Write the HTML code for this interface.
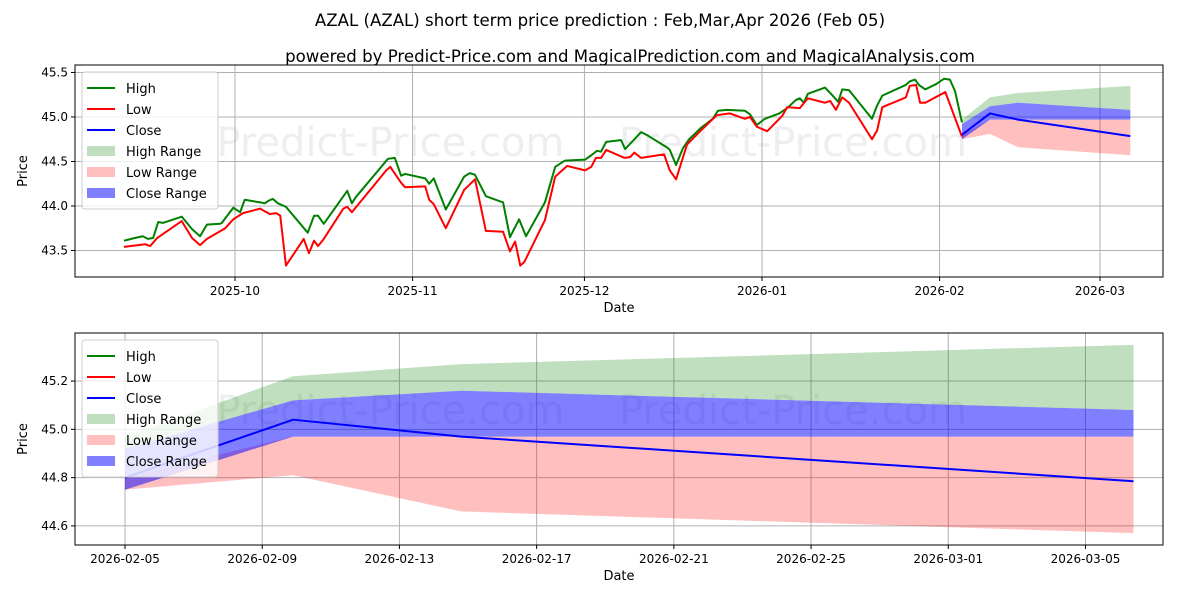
<!DOCTYPE html>
<html><head><meta charset="utf-8"><style>
body{margin:0;background:#fff;font-family:"DejaVu Sans","Liberation Sans",sans-serif;}
svg text{font-family:"DejaVu Sans","Liberation Sans",sans-serif;}
</style></head><body>
<svg id="c" width="1200" height="600" xmlns="http://www.w3.org/2000/svg"></svg>
<script>
// ---- data ----
const histHighDays=[-19.4,-17.5,-16.1,-15.2,-14.3,-13.4,-12.6,-9.3,-7.5,-6.1,-4.9,-2.6,-2.3,-0.3,0.9,1.7,4.4,5.2,5.9,6.6,7.5,8.9,12.7,13.8,14.5,15.5,19.6,20.4,21.1,26.7,27.9,29.0,29.7,33.2,33.9,34.7,36.8,40.0,41.0,41.9,43.8,46.8,48.0,49.6,50.8,54.1,55.9,57.6,60.6,61.1,62.2,63.2,63.9,64.8,67.4,68.1,70.9,72.1,75.6,75.9,77.0,78.2,79.3,81.2,83.4,84.3,85.9,89.0,89.9,91.1,92.5,95.0,96.4,97.9,98.6,99.3,100.0,103.0,103.9,105.3,106.0,107.2,111.2,112.1,113.0,117.1,117.8,118.7,119.4,120.5,122.4,123.8,124.8,125.7,126.9];
const histHigh=[43.61,43.64,43.66,43.63,43.64,43.82,43.81,43.88,43.74,43.66,43.79,43.80,43.81,43.98,43.93,44.07,44.04,44.03,44.06,44.08,44.03,43.99,43.70,43.89,43.89,43.80,44.17,44.03,44.10,44.53,44.54,44.34,44.36,44.31,44.25,44.31,43.96,44.33,44.37,44.35,44.11,44.04,43.65,43.85,43.66,44.04,44.44,44.51,44.52,44.52,44.57,44.62,44.61,44.72,44.74,44.64,44.83,44.79,44.65,44.63,44.46,44.65,44.75,44.87,44.98,45.07,45.08,45.07,45.03,44.91,44.98,45.04,45.10,45.19,45.21,45.16,45.26,45.33,45.27,45.17,45.31,45.30,44.98,45.13,45.24,45.36,45.40,45.42,45.36,45.31,45.37,45.43,45.42,45.29,44.94];
const histLowDays=[-19.4,-15.7,-14.8,-13.6,-9.3,-7.5,-6.1,-4.9,-1.7,-0.3,1.4,4.4,5.2,6.1,7.2,7.9,8.9,12.0,12.9,13.8,14.5,15.4,18.9,19.6,20.4,26.4,27.1,29.0,29.7,33.2,33.9,34.7,36.8,40.0,41.9,43.8,46.8,48.0,48.9,49.8,50.5,54.1,55.9,58.0,61.1,62.2,63.0,63.9,64.8,68.0,69.0,69.7,70.9,74.9,75.9,77.0,78.9,81.2,84.1,86.4,89.0,89.9,91.1,92.9,95.5,96.4,98.6,100.0,103.0,103.9,104.9,106.0,107.2,111.2,112.1,113.0,117.1,117.8,118.9,119.6,120.5,124.0,126.9];
const histLow=[43.54,43.57,43.55,43.64,43.83,43.64,43.56,43.63,43.75,43.85,43.92,43.97,43.94,43.91,43.92,43.89,43.33,43.63,43.47,43.61,43.55,43.62,43.97,43.99,43.93,44.40,44.44,44.26,44.21,44.22,44.07,44.02,43.75,44.18,44.30,43.72,43.71,43.49,43.60,43.33,43.37,43.84,44.33,44.45,44.40,44.44,44.54,44.54,44.63,44.54,44.55,44.60,44.54,44.58,44.40,44.30,44.69,44.84,45.02,45.04,44.98,45.00,44.89,44.84,45.01,45.11,45.10,45.21,45.16,45.18,45.08,45.22,45.16,44.75,44.85,45.11,45.22,45.35,45.36,45.16,45.16,45.28,44.78];
const fcDays=[0,4.9,9.8,29.4]; // days after 2026-02-05
const fcClose=[44.80,45.04,44.97,44.785];
const fcCloseHi=[44.92,45.12,45.16,45.08];
const fcCloseLo=[44.75,44.97,44.97,44.97];
const fcHighHi=[44.97,45.22,45.27,45.35];
const fcHighLo=[44.92,45.12,45.16,45.08];
const fcLowHi=[44.80,44.97,44.97,44.97];
const fcLowLo=[44.75,44.81,44.66,44.57];
const topXTicks=["2025-10","2025-11","2025-12","2026-01","2026-02","2026-03"];
const topXTickDays=[0,31,61,92,123,151];
const topYTicks=[43.5,44.0,44.5,45.0,45.5];
const botXTicks=["2026-02-05","2026-02-09","2026-02-13","2026-02-17","2026-02-21","2026-02-25","2026-03-01","2026-03-05"];
const botXTickDays=[0,4,8,12,16,20,24,28];
const botYTicks=[44.6,44.8,45.0,45.2];
const fcStartDay=126.9;

const svg=document.getElementById('c');
const NS='http://www.w3.org/2000/svg';
function mk(tag,attrs,parent){const e=document.createElementNS(NS,tag);for(const k in attrs)e.setAttribute(k,attrs[k]);(parent||svg).appendChild(e);return e;}
function txt(s,attrs,parent){const e=mk('text',attrs,parent);e.textContent=s;return e;}

let t=txt('AZAL (AZAL) short term price prediction : Feb,Mar,Apr 2026 (Feb 05)',{x:600,y:26,'text-anchor':'middle','font-size':16.6,fill:'#000'});

t=txt('powered by Predict-Price.com and MagicalPrediction.com and MagicalAnalysis.com',{x:630,y:62,'text-anchor':'middle','font-size':16.6,fill:'#000'});


function panel(cfg){
  const {L,R,T,B,x0,x1,y0,y1,name}=cfg;
  const g=mk('g',{});
  
  
  const X=d=>L+(d-x0)/(x1-x0)*(R-L);
  const Y=v=>B-(v-y0)/(y1-y0)*(B-T);
  const w1=txt('Predict-Price.com',{x:L+(R-L)*0.13,y:T+(B-T)*0.43,'font-size':40,fill:'#eeeeee'},g);
  
  const w2=txt('Predict-Price.com',{x:L+(R-L)*0.5,y:T+(B-T)*0.43,'font-size':40,fill:'#eeeeee'},g);
  
  cfg.xt.forEach((lab,i)=>{const x=X(cfg.xd[i]);
    mk('line',{x1:x,x2:x,y1:T,y2:B,stroke:'#b0b0b0','stroke-width':1},g);
    mk('line',{x1:x,x2:x,y1:B,y2:B+4,stroke:'#000'},g);
    const tl=txt(lab,{x:x,y:B+18,'text-anchor':'middle','font-size':12},g);
    });
  cfg.yt.forEach(v=>{const y=Y(v);
    mk('line',{x1:L,x2:R,y1:y,y2:y,stroke:'#b0b0b0','stroke-width':1},g);
    mk('line',{x1:L-4,x2:L,y1:y,y2:y,stroke:'#000'},g);
    const tl=txt(v.toFixed(1),{x:L-7,y:y+4,'text-anchor':'end','font-size':12},g);
    });
  const clip='clip'+name; const cp=mk('clipPath',{id:clip},g); mk('rect',{x:L,y:T,width:R-L,height:B-T},cp);
  const pg=mk('g',{'clip-path':'url(#'+clip+')'},g);
  function band(hi,lo,fill,op,nm){
    let d=fcDays.map((f,i)=>(i?'L':'M')+X(cfg.off+f)+','+Y(hi[i])).join('');
    for(let i=fcDays.length-1;i>=0;i--)d+='L'+X(cfg.off+fcDays[i])+','+Y(lo[i]);
    const p=mk('path',{d:d+'Z',fill:fill,'fill-opacity':op},pg);
    }
  band(fcHighHi,fcHighLo,'green',0.25,'high-range-band');
  band(fcLowHi,fcLowLo,'red',0.25,'low-range-band');
  band(fcCloseHi,fcCloseLo,'blue',0.5,'close-range-band');
  function line(ds,vs,col,nm,off){
    const p=mk('polyline',{points:ds.map((d,i)=>X(d+off)+','+Y(vs[i])).join(' '),fill:'none',stroke:col,'stroke-width':2,'stroke-linejoin':'round'},pg);
    }
  if(cfg.hist){line(histHighDays,histHigh,'green','high-line',0);line(histLowDays,histLow,'red','low-line',0);}
  line(fcDays,fcClose,'blue','close-line',cfg.off);
  mk('rect',{x:L,y:T,width:R-L,height:B-T,fill:'none',stroke:'#000','stroke-width':1},g);
  const xl=txt('Date',{x:(L+R)/2,y:B+35,'text-anchor':'middle','font-size':13},g);
  
  const yl=txt('Price',{x:0,y:0,'text-anchor':'middle','font-size':13,transform:`translate(27,${(T+B)/2}) rotate(-90)`},g);
  
  const lg=mk('g',{},g);
  const lx=L+7,ly=T+7;
  mk('rect',{x:lx,y:ly,width:136,height:137,rx:3,fill:'#fff','fill-opacity':0.8,stroke:'#ccc'},lg);
  const items=[['High','green','line'],['Low','red','line'],['Close','blue','line'],['High Range','rgba(0,128,0,0.25)','box'],['Low Range','rgba(255,0,0,0.25)','box'],['Close Range','rgba(0,0,255,0.5)','box']];
  items.forEach((it,i)=>{const yy=ly+16+i*21;
    const e=mk('g',{},lg);
    if(it[2]=='line')mk('line',{x1:lx+5,x2:lx+33,y1:yy,y2:yy,stroke:it[1],'stroke-width':2},e);
    else mk('rect',{x:lx+5,y:yy-5,width:28,height:10,fill:it[1]},e);
    txt(it[0],{x:lx+44,y:yy+5,'font-size':13},e);});
}
panel({name:'top-panel',L:75,R:1163,T:65,B:277,x0:-27.93,x1:162.0,y0:43.202,y1:45.584,xt:topXTicks,xd:topXTickDays,yt:topYTicks,off:fcStartDay,hist:true});
panel({name:'bottom-panel',L:75,R:1163,T:333,B:545,x0:-1.458,x1:30.26,y0:44.521,y1:45.399,xt:botXTicks,xd:botXTickDays,yt:botYTicks,off:0,hist:false});
</script>
</body></html>
